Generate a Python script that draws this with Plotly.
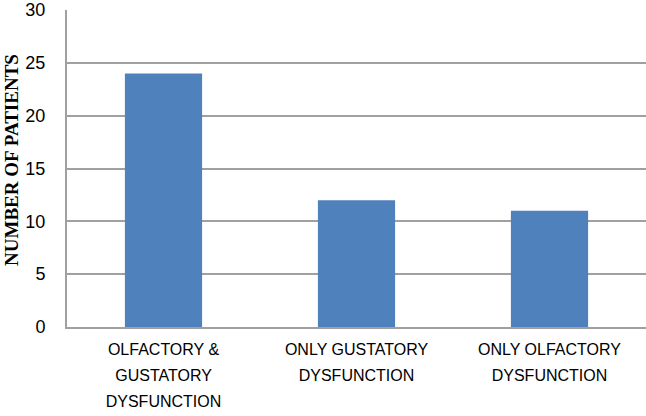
import plotly.graph_objects as go

label_lines = [
    ["OLFACTORY &", "GUSTATORY", "DYSFUNCTION"],
    ["ONLY GUSTATORY", "DYSFUNCTION"],
    ["ONLY OLFACTORY", "DYSFUNCTION"],
]
patients = [24, 12, 11]
y_ticks = [0, 5, 10, 15, 20, 25, 30]
y_title = "NUMBER OF PATIENTS"

categories = ["<br>".join('<span style="font-size:16px">%s</span>' % s for s in lines) for lines in label_lines]

fig = go.Figure(go.Bar(x=categories, y=patients, marker=dict(color="#4F81BD", line=dict(width=0))))

fig.update_layout(
    width=646, height=416,
    margin=dict(l=67, r=0, t=10, b=89),
    plot_bgcolor="white", paper_bgcolor="white",
    bargap=0.6,
    showlegend=False,
    font=dict(family="Liberation Sans", color="black"),
)
fig.add_annotation(
    text="<b>%s</b>" % y_title, textangle=-90, showarrow=False,
    xref="paper", yref="paper", x=0, y=0.527, xanchor="center", yanchor="middle",
    xshift=-55, font=dict(size=19, family="Liberation Serif", color="black"),
)
fig.update_xaxes(
    showline=True, linecolor="#A0A0A0", linewidth=2,
    tickfont=dict(size=20, family="Liberation Sans", color="black"),
    ticks="", ticklabelstandoff=2,
)
fig.update_yaxes(
    range=[0, 30], tickvals=y_ticks,
    showline=True, linecolor="#A0A0A0", linewidth=2,
    showgrid=True, gridcolor="#A0A0A0", gridwidth=2,
    zeroline=False,
    tickfont=dict(size=18, family="Liberation Sans", color="black"),
    ticks="", ticklabelstandoff=16,
)
fig.write_html("out.html", config={"displayModeBar": False},
               post_script="document.body.style.margin='0px';")
